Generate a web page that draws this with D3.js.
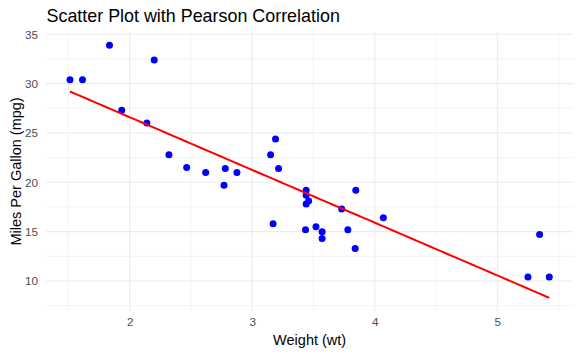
<!DOCTYPE html>
<html><head><meta charset="utf-8">
<script src="https://cdn.jsdelivr.net/npm/d3@7"></script>
<style>body{margin:0;background:#fff;} text{font-family:"Liberation Sans",Arial,sans-serif;}</style>
</head><body><svg id="c" width="581" height="355"></svg>
<script>
const wt = [2.620,2.875,2.320,3.215,3.440,3.460,3.570,3.190,3.150,3.440,3.440,4.070,3.730,3.780,5.250,5.424,5.345,2.200,1.615,1.835,2.465,3.520,3.435,3.840,3.845,1.935,2.140,1.513,3.170,2.770,3.570,2.780];
const mpg = [21.0,21.0,22.8,21.4,18.7,18.1,14.3,24.4,22.8,19.2,17.8,16.4,17.3,15.2,10.4,10.4,14.7,32.4,30.4,33.9,21.5,15.5,15.2,13.3,19.2,27.3,26.0,30.4,15.8,19.7,15.0,21.4];
const xTicks = [2,3,4,5];
const yTicks = [10,15,20,25,30,35];
const xMinor = [1.5,2.5,3.5,4.5,5.5];
const yMinor = [7.5,12.5,17.5,22.5,27.5,32.5];

const svg = d3.select("#c");
const L=46, R=573.3, T=32.5, B=310.4;
const x = d3.scaleLinear().domain([1.317,5.620]).range([L,R]);
const y = d3.scaleLinear().domain([7.02,35.18]).range([B,T]);

const g = svg.append("g");
const grid = "#EBEBEB";
xMinor.forEach(v=>g.append("line").attr("x1",x(v)).attr("x2",x(v)).attr("y1",T).attr("y2",B).attr("stroke",grid).attr("stroke-width",0.6));
yMinor.forEach(v=>g.append("line").attr("y1",y(v)).attr("y2",y(v)).attr("x1",L).attr("x2",R).attr("stroke",grid).attr("stroke-width",0.6));
xTicks.forEach(v=>g.append("line").attr("x1",x(v)).attr("x2",x(v)).attr("y1",T).attr("y2",B).attr("stroke",grid).attr("stroke-width",1.1));
yTicks.forEach(v=>g.append("line").attr("y1",y(v)).attr("y2",y(v)).attr("x1",L).attr("x2",R).attr("stroke",grid).attr("stroke-width",1.1));

const xa = svg.append("g").attr("transform",`translate(0,${B})`).call(d3.axisBottom(x).tickValues(xTicks).tickFormat(d3.format("d")).tickSize(0).tickPadding(7));
const ya = svg.append("g").attr("transform",`translate(${L},0)`).call(d3.axisLeft(y).tickValues(yTicks).tickFormat(d3.format("d")).tickSize(0).tickPadding(8));
[xa,ya].forEach(a=>{a.select(".domain").remove();a.selectAll("text").attr("fill","#4D4D4D").style("font-size","11.7px").style("font-family","'Liberation Sans',Arial,sans-serif");});

// least-squares fit
const n=wt.length, mx=d3.mean(wt), my=d3.mean(mpg);
let sxy=0,sxx=0; for(let i=0;i<n;i++){sxy+=(wt[i]-mx)*(mpg[i]-my);sxx+=(wt[i]-mx)**2;}
const b=sxy/sxx, a=my-b*mx;
const ext=d3.extent(wt);
const lineData=d3.range(0,81).map(i=>{const w=ext[0]+(ext[1]-ext[0])*i/80;return [w,a+b*w];});

svg.append("g").selectAll("circle").data(wt).join("circle")
 .attr("cx",(d)=>x(d)).attr("cy",(d,i)=>y(mpg[i])).attr("r",3.5).attr("fill","#0000FF");

svg.append("path").datum(lineData).attr("d",d3.line().x(d=>x(d[0])).y(d=>y(d[1])))
 .attr("fill","none").attr("stroke","#FF0000").attr("stroke-width",2);

svg.append("text").attr("x",46.5).attr("y",22).text("Scatter Plot with Pearson Correlation").style("font-size","17.9px").attr("fill","#000");
svg.append("text").attr("x",(L+R)/2).attr("y",345).attr("text-anchor","middle").text("Weight (wt)").style("font-size","14.5px").attr("fill","#000");
svg.append("text").attr("transform",`translate(21,${(T+B)/2}) rotate(-90)`).attr("text-anchor","middle").text("Miles Per Gallon (mpg)").style("font-size","14.5px").attr("fill","#000");
</script></body></html>
